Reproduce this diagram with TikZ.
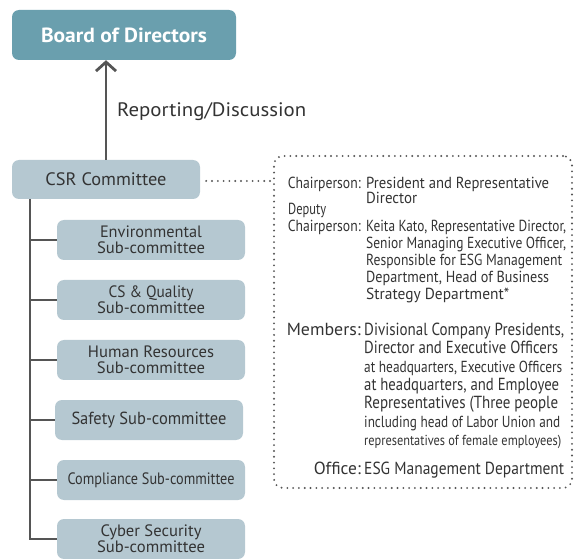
\documentclass[tikz,border=0pt]{standalone}
\usepackage{fontspec}
\usepackage{graphicx}
\setmainfont{PT Sans}
\usetikzlibrary{arrows.meta}
\definecolor{boardc}{HTML}{6A9FAE}
\definecolor{subc}{HTML}{B5C8D1}
\definecolor{ink}{HTML}{333333}
\definecolor{linec}{HTML}{555555}
\newsavebox\fitbox
\newlength\fitlen
\newcommand\fitw[2]{\sbox\fitbox{#2}\setlength\fitlen{\wd\fitbox}\pgfmathsetmacro\fitratio{#1/\fitlen}\scalebox{\fitratio}[1]{\usebox\fitbox}}
\begin{document}
\begin{tikzpicture}[x=1pt,y=-1pt,
  boardbox/.style={fill=boardc, rounded corners=7pt, inner sep=0pt, minimum width=224pt, minimum height=50pt, text=white, font=\bfseries\fontsize{20.5}{22}\selectfont},
  csrbox/.style={fill=subc, rounded corners=7pt, inner sep=0pt, minimum width=188pt, minimum height=39pt, text=ink, font=\fontsize{18}{19}\selectfont},
  subbox/.style={fill=subc, rounded corners=7pt, inner sep=0pt, minimum width=188pt, minimum height=40pt, text=ink, align=center, font=\fontsize{16.5}{16.2}\selectfont},
  dotbox/.style={draw=linec, line width=2.1pt, dash pattern=on 0pt off 5.8pt, line cap=round, rounded corners=9pt, inner sep=0pt, minimum width=298pt, minimum height=332pt},
  dotline/.style={draw=linec, line width=2.1pt, dash pattern=on 0pt off 5.8pt, line cap=round},
  trunkline/.style={draw=linec, line width=2.8pt},
  arr/.style={draw=linec, line width=2.8pt, -{Straight Barb[length=9pt,width=20pt]}},
  lab/.style={anchor=base east, inner sep=0pt, text=ink, font=\fontsize{16}{16}\selectfont},
  val/.style={anchor=base west, inner sep=0pt, text=ink, font=\fontsize{16}{16}\selectfont},
  labb/.style={anchor=base east, inner sep=0pt, text=ink, font=\fontsize{17.5}{16}\selectfont},
  valb/.style={anchor=base west, inner sep=0pt, text=ink, font=\fontsize{17.5}{16}\selectfont},
  valm/.style={anchor=base west, inner sep=0pt, text=ink, font=\fontsize{16}{16}\selectfont},
  vals/.style={anchor=base west, inner sep=0pt, text=ink, font=\fontsize{14.5}{16}\selectfont},
]
\useasboundingbox (0,0) rectangle (574,559);

\node[boardbox] (bod) at (124,35) {\fitw{166pt}{Board of Directors}};
\node[csrbox] (csr) at (106,179.5) {\fitw{121pt}{CSR Committee}};
\node[anchor=west, inner sep=0pt, text=ink, font=\fontsize{19.5}{20}\selectfont] (rep) at (117,112) {\fitw{189pt}{Reporting/Discussion}};
\draw[arr] (csr.north) -- (csr.north |- bod.south);

\node[subbox] (s1) at (151,240) {\fitw{102pt}{Environmental}\\\fitw{108pt}{Sub-committee}};
\node[subbox] (s2) at (151,300) {\fitw{85pt}{CS \& Quality}\\\fitw{108pt}{Sub-committee}};
\node[subbox] (s3) at (151,360) {\fitw{126pt}{Human Resources}\\\fitw{108pt}{Sub-committee}};
\node[subbox, font=\fontsize{17.5}{16}\selectfont] (s4) at (149,420) {\fitw{155pt}{Safety Sub-committee}};
\node[subbox, font=\fontsize{16.5}{15.7}\selectfont] (s5) at (151,480) {\fitw{167pt}{Compliance Sub-committee}};
\node[subbox] (s6) at (151,539) {\fitw{101pt}{Cyber Security}\\\fitw{108pt}{Sub-committee}};

\coordinate (trunk) at (30,199);
\draw[trunkline] (trunk) |- (s6.west);
\foreach \s in {s1,s2,s3,s4,s5}{
  \draw[trunkline] (trunk |- \s.west) -- (\s.west);
}

\node[dotbox] (info) at (423,322) {};
\draw[dotline] ([xshift=6pt]csr.east |- 0,181) -- (info.west |- 0,181);

% Chairperson
\node[lab] (l1) at (361,189) {\fitw{73pt}{Chairperson:}};
\node[val] (v1a) at (366,189) {\fitw{183pt}{President and Representative}};
\node[val] (v1b) at (366,204) {\fitw{51pt}{Director}};
% Deputy
\node[val] (l2a) at (288,215) {\fitw{38pt}{Deputy}};
\node[lab] (l2b) at (361,232) {\fitw{73pt}{Chairperson:}};
\node[val] (v2a) at (366,232) {\fitw{200pt}{Keita Kato, Representative Director,}};
\node[val] (v2b) at (366,249) {\fitw{200pt}{Senior Managing Executive Officer,}};
\node[val] (v2c) at (366,266) {\fitw{196pt}{Responsible for ESG Management}};
\node[val] (v2d) at (366,283) {\fitw{183pt}{Department, Head of Business}};
\node[val] (v2e) at (366,300) {\fitw{143pt}{Strategy Department*}};
% Members
\node[labb] (l3) at (361,336) {\fitw{74pt}{Members:}};
\node[valb] (v3a) at (364,336) {\fitw{200pt}{Divisional Company Presidents,}};
\node[valb] (v3b) at (364,354) {\fitw{194pt}{Director and Executive Officers}};
\node[valm] (v3c) at (364,372.5) {\fitw{198pt}{at headquarters, Executive Officers}};
\node[valb] (v3d) at (364,391) {\fitw{195pt}{at headquarters, and Employee}};
\node[valb] (v3e) at (364,409) {\fitw{194pt}{Representatives (Three people}};
\node[valm] (v3f) at (364,427.5) {\fitw{196pt}{including head of Labor Union and}};
\node[vals] (v3g) at (364,446) {\fitw{197pt}{representatives of female employees)}};
% Office
\node[labb] (l4) at (361,475) {\fitw{47pt}{Office:}};
\node[valb] (v4) at (364,475) {\fitw{200pt}{ESG Management Department}};
\end{tikzpicture}
\end{document}
